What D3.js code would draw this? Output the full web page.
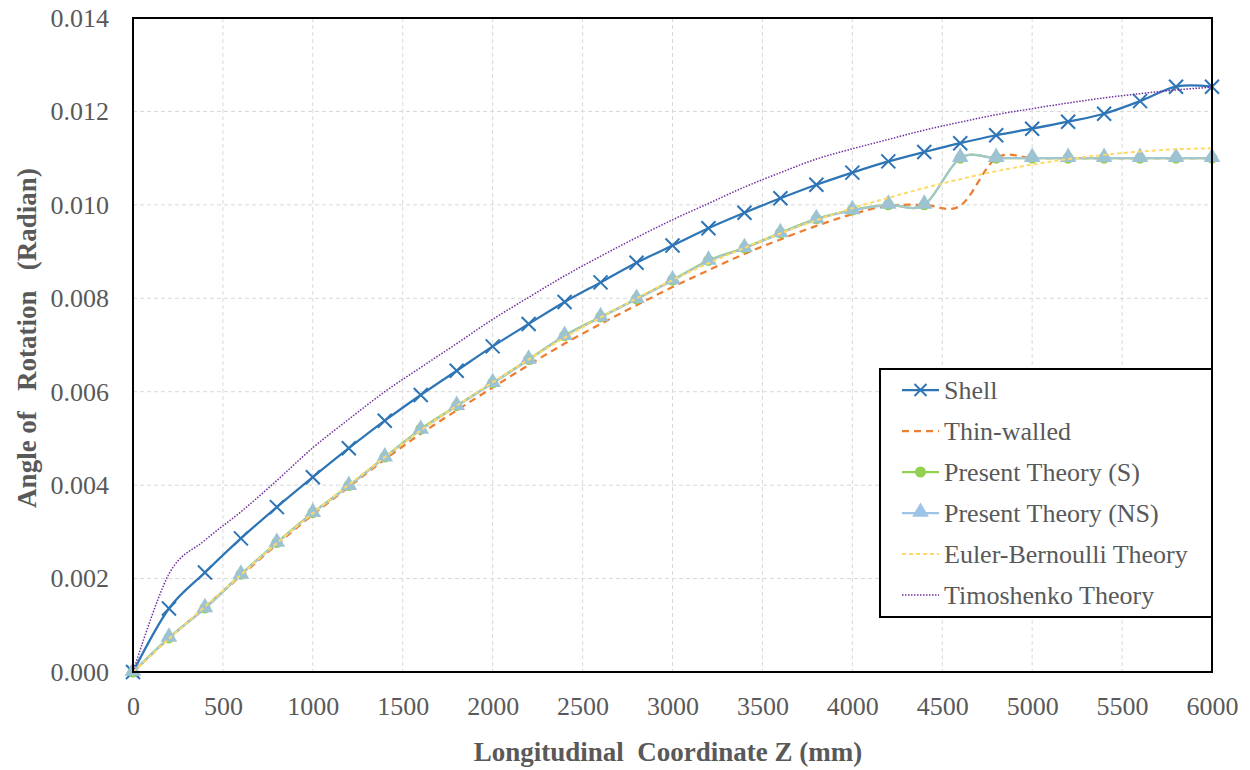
<!DOCTYPE html>
<html>
<head>
<meta charset="utf-8">
<style>
body { margin: 0; background: #fff; }
text { font-family: "Liberation Serif", "Times New Roman", serif; fill: #595959; }
</style>
</head>
<body>
<svg width="1250" height="770"></svg>
<script src="https://cdn.jsdelivr.net/npm/d3@7"></script>
<script>
// longitudinal coordinate z (mm)
var z = [0,200,400,600,800,1000,1200,1400,1600,1800,2000,2200,2400,2600,2800,3000,
         3200,3400,3600,3800,4000,4200,4400,4600,4800,5000,5200,5400,5600,5800,6000];

var shell = [0,0.00136,0.00213,0.00286,0.00353,0.00417,0.00479,0.00538,0.00593,0.00645,0.00697,
             0.00745,0.00792,0.00834,0.00876,0.00913,0.00950,0.00983,0.01014,0.01043,0.01069,
             0.01093,0.01113,0.01132,0.01149,0.01163,0.01178,0.01195,0.01222,0.01253,0.01253];

var thinWalled = [0,0.00072,0.00139,0.00206,0.00273,0.00337,0.00396,0.00455,0.00510,0.00560,0.00609,
                  0.00657,0.00703,0.00745,0.00785,0.00824,0.00860,0.00895,0.00926,0.00955,0.00980,
                  0.00998,0.01000,0.00998,0.01100,0.01100,0.01100,0.01100,0.01100,0.01100,0.01100];

var presentS = [0,0.00073,0.00137,0.00209,0.00277,0.00341,0.00399,0.00460,0.00520,0.00570,0.00619,
                0.00669,0.00720,0.00760,0.00799,0.00839,0.00881,0.00908,0.00940,0.00970,0.00989,
                0.01000,0.01000,0.01100,0.01100,0.01100,0.01100,0.01100,0.01100,0.01100,0.01100];

var presentNS = [0,0.00073,0.00136,0.00208,0.00276,0.00340,0.00398,0.00459,0.00518,0.00569,0.00618,
                 0.00668,0.00719,0.00759,0.00798,0.00838,0.00880,0.00907,0.00939,0.00969,0.00988,
                 0.01000,0.01000,0.01100,0.01100,0.01100,0.01100,0.01100,0.01100,0.01100,0.01100];

var eulerBernoulli = [0,0.00071,0.00140,0.00208,0.00276,0.00340,0.00401,0.00460,0.00517,0.00570,0.00620,
                      0.00669,0.00716,0.00759,0.00800,0.00839,0.00875,0.00908,0.00939,0.00967,0.00993,
                      0.01015,0.01036,0.01055,0.01072,0.01086,0.01098,0.01107,0.01114,0.01119,0.01121];

var timoshenko = [0,0.00210,0.00282,0.00343,0.00410,0.00480,0.00541,0.00600,0.00652,0.00703,0.00755,
                  0.00802,0.00848,0.00890,0.00930,0.00968,0.01003,0.01038,0.01069,0.01098,0.01120,
                  0.01140,0.01160,0.01177,0.01193,0.01206,0.01218,0.01229,0.01238,0.01246,0.01252];

var xTicks = [0,500,1000,1500,2000,2500,3000,3500,4000,4500,5000,5500,6000];
var yTicks = [0,0.002,0.004,0.006,0.008,0.010,0.012,0.014];

var seriesNames = ["Shell","Thin-walled","Present Theory (S)","Present Theory (NS)","Euler-Bernoulli Theory","Timoshenko Theory"];

var svg = d3.select("svg");
var pLeft = 133, pRight = 1212, pTop = 18, pBottom = 672;

var x = d3.scaleLinear().domain([0, 6000]).range([pLeft, pRight]);
var y = d3.scaleLinear().domain([0, 0.014]).range([pBottom, pTop]);

// grid
svg.append("g").selectAll("line")
  .data(xTicks.slice(1, -1))
  .enter().append("line")
  .attr("x1", function(d) { return x(d); })
  .attr("x2", function(d) { return x(d); })
  .attr("y1", pTop).attr("y2", pBottom)
  .attr("stroke", "#d9d9d9").attr("stroke-width", 1).attr("stroke-dasharray", "4,3");

svg.append("g").selectAll("line")
  .data(yTicks.slice(1, -1))
  .enter().append("line")
  .attr("y1", function(d) { return y(d); })
  .attr("y2", function(d) { return y(d); })
  .attr("x1", pLeft).attr("x2", pRight)
  .attr("stroke", "#d9d9d9").attr("stroke-width", 1).attr("stroke-dasharray", "4,3");

// tick labels
var xAxis = d3.axisBottom(x).tickValues(xTicks).tickSize(0).tickPadding(25).tickFormat(d3.format("d"));
var gx = svg.append("g").attr("transform", "translate(0," + pBottom + ")").call(xAxis);
gx.select(".domain").remove();
gx.selectAll("text").attr("font-size", 26).attr("fill", "#595959");
gx.attr("font-family", null);

var yAxis = d3.axisLeft(y).tickValues(yTicks).tickSize(0).tickPadding(24).tickFormat(d3.format(".3f"));
var gy = svg.append("g").attr("transform", "translate(" + pLeft + ",0)").call(yAxis);
gy.select(".domain").remove();
gy.selectAll("text").attr("font-size", 26).attr("fill", "#595959");
gy.attr("font-family", null);

function pts(vals) {
  return z.map(function(d, i) { return [d, vals[i]]; });
}

var line = d3.line()
  .x(function(d) { return x(d[0]); })
  .y(function(d) { return y(d[1]); })
  .curve(d3.curveCatmullRom.alpha(0));

var plot = svg.append("g");

function drawX(g, cx, cy, s) {
  g.append("path")
    .attr("d", "M" + (cx - s) + "," + (cy - s) + "L" + (cx + s) + "," + (cy + s) +
               "M" + (cx - s) + "," + (cy + s) + "L" + (cx + s) + "," + (cy - s))
    .attr("stroke", "#2E75B6").attr("stroke-width", 2).attr("fill", "none");
}

var tri = d3.symbol().type(d3.symbolTriangle).size(120);

// Shell
plot.append("path").attr("d", line(pts(shell)))
  .attr("fill", "none").attr("stroke", "#2E75B6").attr("stroke-width", 2.25);
var gShell = plot.append("g");
pts(shell).forEach(function(p) { drawX(gShell, x(p[0]), y(p[1]), 7); });

// Thin-walled
plot.append("path").attr("d", line(pts(thinWalled)))
  .attr("fill", "none").attr("stroke", "#ED7D31").attr("stroke-width", 2.25)
  .attr("stroke-dasharray", "7,5");

// Present Theory (S)
plot.append("path").attr("d", line(pts(presentS)))
  .attr("fill", "none").attr("stroke", "#92D050").attr("stroke-width", 2.25);
plot.append("g").selectAll("circle")
  .data(pts(presentS))
  .enter().append("circle")
  .attr("cx", function(d) { return x(d[0]); })
  .attr("cy", function(d) { return y(d[1]); })
  .attr("r", 5.5)
  .attr("fill", "#92D050");

// Present Theory (NS)
plot.append("path").attr("d", line(pts(presentNS)))
  .attr("fill", "none").attr("stroke", "#A3C6CF").attr("stroke-width", 2.25);
plot.append("g").selectAll("path")
  .data(pts(presentNS))
  .enter().append("path")
  .attr("d", tri)
  .attr("transform", function(d) { return "translate(" + x(d[0]) + "," + (y(d[1]) - 1) + ")"; })
  .attr("fill", "#9DC3D3");

// Euler-Bernoulli
plot.append("path").attr("d", line(pts(eulerBernoulli)))
  .attr("fill", "none").attr("stroke", "#FFD966").attr("stroke-width", 2)
  .attr("stroke-dasharray", "4,3");

// Timoshenko
plot.append("path").attr("d", line(pts(timoshenko)))
  .attr("fill", "none").attr("stroke", "#7030A0").attr("stroke-width", 1.5)
  .attr("stroke-dasharray", "1.5,1.5");

// border
svg.append("rect")
  .attr("x", pLeft).attr("y", pTop)
  .attr("width", pRight - pLeft).attr("height", pBottom - pTop)
  .attr("fill", "none").attr("stroke", "#000").attr("stroke-width", 2);

// axis titles
svg.append("text")
  .attr("x", 668).attr("y", 761)
  .attr("text-anchor", "middle")
  .attr("font-size", 27).attr("font-weight", "bold")
  .style("white-space", "pre")
  .text("Longitudinal  Coordinate Z (mm)");

svg.append("text")
  .attr("transform", "translate(36,338) rotate(-90)")
  .attr("text-anchor", "middle")
  .attr("font-size", 27).attr("font-weight", "bold")
  .style("white-space", "pre")
  .text("Angle of   Rotation   (Radian)");

// legend
var lg = svg.append("g");
lg.append("rect")
  .attr("x", 880).attr("y", 369).attr("width", 332).attr("height", 248)
  .attr("fill", "#fff").attr("stroke", "#000").attr("stroke-width", 2);

var legendStyles = [
  { color: "#2E75B6", width: 2.25, dash: null, mark: "x" },
  { color: "#ED7D31", width: 2.25, dash: "7,5", mark: null },
  { color: "#92D050", width: 2.25, dash: null, mark: "circle" },
  { color: "#9DC3E6", width: 2.25, dash: null, mark: "tri" },
  { color: "#FFD966", width: 2, dash: "4,3", mark: null },
  { color: "#7030A0", width: 1.5, dash: "1.5,1.5", mark: null }
];

seriesNames.forEach(function(name, i) {
  var cy = 390 + i * 41;
  var st = legendStyles[i];
  lg.append("line")
    .attr("x1", 902).attr("x2", 939).attr("y1", cy).attr("y2", cy)
    .attr("stroke", st.color).attr("stroke-width", st.width)
    .attr("stroke-dasharray", st.dash);
  if (st.mark == "x") drawX(lg, 920.5, cy, 6);
  if (st.mark == "circle") lg.append("circle").attr("cx", 920.5).attr("cy", cy).attr("r", 5.5).attr("fill", st.color);
  if (st.mark == "tri") lg.append("path").attr("d", tri).attr("transform", "translate(920.5," + (cy - 1) + ")").attr("fill", st.color);
  lg.append("text")
    .attr("x", 944).attr("y", cy + 9)
    .attr("font-size", 26)
    .text(name);
});
</script>
</body>
</html>
